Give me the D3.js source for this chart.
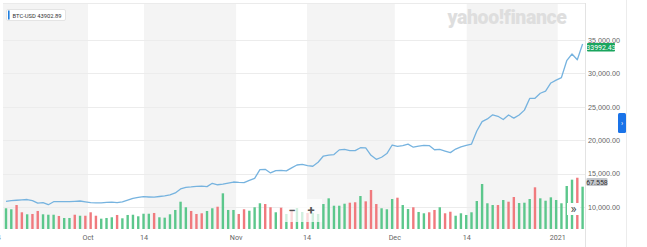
<!DOCTYPE html>
<html>
<head>
<meta charset="utf-8">
<script src="https://cdn.jsdelivr.net/npm/d3@7"></script>
<style>
body { margin: 0; background: #fff; }
svg { display: block; font-family: Roboto, "Helvetica Neue", Arial, sans-serif; }
</style>
</head>
<body>
<div id="chart"></div>
<script>
// daily close, USD
var prices = [10850, 10960, 11010, 11070, 11120, 10950, 10590, 10640, 10344, 10790,
  10790, 10790, 10810, 10850, 10898, 10760, 10640, 10620, 10620, 10700,
  10720, 10650, 10780, 11030, 11290, 11430, 11540, 11500, 11470, 11570,
  11680, 11820, 12100, 12700, 12950, 13000, 13090, 13130, 13050, 13550,
  13330, 13420, 13590, 13740, 13690, 13660, 13990, 14280, 15600, 15640,
  15100, 15450, 15480, 15400, 15850, 16290, 16370, 16200, 16100, 16700,
  17630, 17780, 17850, 18550, 18640, 18450, 18430, 18870, 18840, 17740,
  17140, 17450, 18000, 19280, 19070, 19200, 19410, 18950, 19100, 19220,
  19190, 18570, 18620, 18380, 18140, 18670, 19000, 19230, 19420, 21380,
  22790, 23180, 23800, 23580, 23090, 23770, 23300, 23780, 24500, 26250,
  26280, 27030, 27340, 28570, 29000, 29380, 31900, 32900, 32050, 34400];

// daily volume, billions
var volumes = [33.1, 31.5, 38.3, 26.7, 23.5, 24.0, 28.8, 23.5, 22.8, 22.8,
  20.8, 17.6, 17.6, 22.8, 21.2, 21.2, 26.7, 21.2, 16.5, 17.6,
  18.7, 22.4, 17.1, 22.4, 22.8, 20.3, 24.4, 24.4, 25.6, 18.7,
  18.1, 23.5, 30.4, 43.6, 34.7, 28.8, 24.0, 25.1, 28.8, 33.1,
  35.6, 57.0, 30.4, 30.4, 24.0, 31.5, 29.2, 34.7, 41.1, 39.9,
  34.7, 26.7, 34.0, 24.0, 28.8, 33.5, 27.2, 25.6, 25.6, 24.0,
  39.9, 49.0, 37.2, 37.2, 40.4, 42.0, 42.7, 52.7, 44.2, 62.3,
  39.9, 33.1, 31.5, 47.9, 50.0, 38.3, 31.9, 34.7, 27.2, 25.1,
  26.7, 30.4, 34.7, 25.1, 27.6, 21.2, 25.1, 22.4, 26.7, 44.7,
  71.9, 41.1, 38.3, 38.3, 46.3, 43.6, 51.1, 41.5, 42.0, 47.9,
  66.6, 49.0, 45.2, 50.6, 46.3, 41.1, 68.7, 78.8, 81.9, 67.6];

// G = up day, R = down day
var direction = ("GGRRGRRGGGRGGRGRRRGGGRGGGGGGRGGGGGGRR" +
  "RGGRGGGRRGGGRRGR" + "GRGGRGG" + "GGGGGRRGRRRGG" +
  "GRGGRGGRRGRRGGGGGGGGRGRRGGGRGGGGGGGRG").split("");

var tickLabels = ["14", "Oct", "14", "Nov", "14", "Dec", "14", "2021"];
var tickIdx = [-1.75, 15.5, 26.1, 43.5, 56.9, 73.5, 87.1, 104.3];
var priceTicks = [10000, 15000, 20000, 25000, 30000, 35000];

var symbol = "BTC-USD", legendValue = "43902.89";
var lastPrice = "33992.43", lastVolume = "67.558";

var W = 647, H = 247;
var plot = {left: 3, right: 585, top: 3, bottom: 229};

var svg = d3.select("#chart").append("svg")
  .attr("width", W)
  .attr("height", H);

var x = d3.scaleLinear()
  .domain([0, prices.length - 1])
  .range([6, 582.6]);

var y = d3.scaleLinear()
  .domain([10000, 35000])
  .range([207, 40]);

var yVol = d3.scaleLinear()
  .domain([0, 100])
  .range([plot.bottom, plot.bottom - 62.6]);

// alternating background bands between ticks
var edges = [plot.left].concat(tickIdx.slice(1).map(function(t) { return x(t); }), [plot.right]);
for (var i = 0; i < edges.length - 1; i++) {
  if (i % 2 === 0) {
    svg.append("rect")
      .attr("x", edges[i])
      .attr("y", plot.top)
      .attr("width", edges[i + 1] - edges[i])
      .attr("height", plot.bottom - plot.top)
      .attr("fill", "#f4f4f4");
  }
}

// top border and right separators
svg.append("line")
  .attr("x1", plot.left).attr("x2", plot.right)
  .attr("y1", plot.top + 0.5).attr("y2", plot.top + 0.5)
  .attr("stroke", "#ebebeb");
svg.append("line")
  .attr("x1", plot.right + 0.5).attr("x2", plot.right + 0.5)
  .attr("y1", plot.top).attr("y2", H)
  .attr("stroke", "#e3e3e3");
svg.append("line")
  .attr("x1", 626.5).attr("x2", 626.5)
  .attr("y1", 0).attr("y2", H)
  .attr("stroke", "#ececec");

// gridlines
svg.selectAll(".grid")
  .data(priceTicks)
  .enter().append("line")
  .attr("class", "grid")
  .attr("x1", plot.left).attr("x2", plot.right)
  .attr("y1", function(d) { return Math.round(y(d)) + 0.5; })
  .attr("y2", function(d) { return Math.round(y(d)) + 0.5; })
  .attr("stroke", "#ececec");

// logo
svg.append("text")
  .attr("x", 507)
  .attr("y", 23.5)
  .attr("text-anchor", "middle")
  .style("font-size", "19.5px")
  .style("font-weight", "900")
  .style("letter-spacing", "-0.4px")
  .attr("fill", "#dedede")
  .text("yahoo!finance");

// volume bars
svg.selectAll(".vol")
  .data(volumes)
  .enter().append("rect")
  .attr("class", "vol")
  .attr("x", function(d, i) { return x(i) - 1.2; })
  .attr("width", 2.4)
  .attr("y", function(d) { return yVol(d); })
  .attr("height", function(d) { return yVol(0) - yVol(d); })
  .attr("fill", function(d, i) { return direction[i] === "G" ? "#5cc78c" : "#f07a7e"; });

// price line
var line = d3.line()
  .x(function(d, i) { return x(i); })
  .y(function(d) { return y(d); });

svg.append("path")
  .datum(prices)
  .attr("d", line)
  .attr("fill", "none")
  .attr("stroke", "#76b3df")
  .attr("stroke-width", 1.3)
  .attr("stroke-linejoin", "round");

// right price axis
var yAxis = d3.axisRight(y)
  .tickValues(priceTicks)
  .tickSize(0)
  .tickPadding(3)
  .tickFormat(d3.format(",.2f"));

var ga = svg.append("g")
  .attr("transform", "translate(" + plot.right + ",0)")
  .call(yAxis);
ga.select(".domain").remove();
ga.selectAll("text")
  .style("font-size", "7.2px")
  .attr("fill", "#666");

// bottom axis labels
svg.selectAll(".xlab")
  .data(tickLabels)
  .enter().append("text")
  .attr("class", "xlab")
  .attr("x", function(d, i) { return x(tickIdx[i]); })
  .attr("y", 240)
  .attr("text-anchor", "middle")
  .style("font-size", "7.2px")
  .attr("fill", "#666")
  .text(function(d) { return d; });

// price tag
svg.append("rect")
  .attr("x", 587).attr("y", 43)
  .attr("width", 28).attr("height", 8.5)
  .attr("rx", 1)
  .attr("fill", "#1aa55e");
svg.append("text")
  .attr("x", 601).attr("y", 49.7)
  .attr("text-anchor", "middle")
  .style("font-size", "7px")
  .attr("fill", "#fff")
  .text(lastPrice);

// volume tag
svg.append("rect")
  .attr("x", 586.5).attr("y", 178)
  .attr("width", 21).attr("height", 8)
  .attr("rx", 1)
  .attr("fill", "#c4c7cc");
svg.append("text")
  .attr("x", 597).attr("y", 184.5)
  .attr("text-anchor", "middle")
  .style("font-size", "7px")
  .attr("fill", "#333")
  .text(lastVolume);

// legend
svg.append("rect")
  .attr("x", 6.5).attr("y", 9.5)
  .attr("width", 59).attr("height", 11)
  .attr("rx", 1.5)
  .attr("fill", "#fff")
  .attr("stroke", "#e4e4e4");
svg.append("rect")
  .attr("x", 8).attr("y", 10.5)
  .attr("width", 1.6).attr("height", 9)
  .attr("fill", "#1e7fe0");
svg.append("text")
  .attr("x", 12.5).attr("y", 17.5)
  .style("font-size", "5.8px")
  .attr("fill", "#333")
  .text(symbol + "  " + legendValue);

// zoom control
svg.append("rect")
  .attr("x", 283).attr("y", 199)
  .attr("width", 39).attr("height", 23)
  .attr("fill", "#fff")
  .attr("fill-opacity", 0.72);
svg.append("text")
  .attr("x", 292).attr("y", 215)
  .attr("text-anchor", "middle")
  .style("font-size", "13px")
  .style("font-weight", "bold")
  .attr("fill", "#555")
  .text("\u2212");
svg.append("text")
  .attr("x", 311).attr("y", 215)
  .attr("text-anchor", "middle")
  .style("font-size", "13px")
  .style("font-weight", "bold")
  .attr("fill", "#555")
  .text("+");

// scroll button
svg.append("rect")
  .attr("x", 567).attr("y", 203)
  .attr("width", 13).attr("height", 12)
  .attr("fill", "#fff");
svg.append("text")
  .attr("x", 573.5).attr("y", 213)
  .attr("text-anchor", "middle")
  .style("font-size", "13px")
  .attr("fill", "#444")
  .text("\u00bb");

// side tab
svg.append("rect")
  .attr("x", 618).attr("y", 113)
  .attr("width", 8).attr("height", 20)
  .attr("rx", 1.5)
  .attr("fill", "#1a73e8");
svg.append("text")
  .attr("x", 622).attr("y", 125.5)
  .attr("text-anchor", "middle")
  .style("font-size", "7px")
  .attr("fill", "#fff")
  .text("\u203a");
</script>
</body>
</html>
